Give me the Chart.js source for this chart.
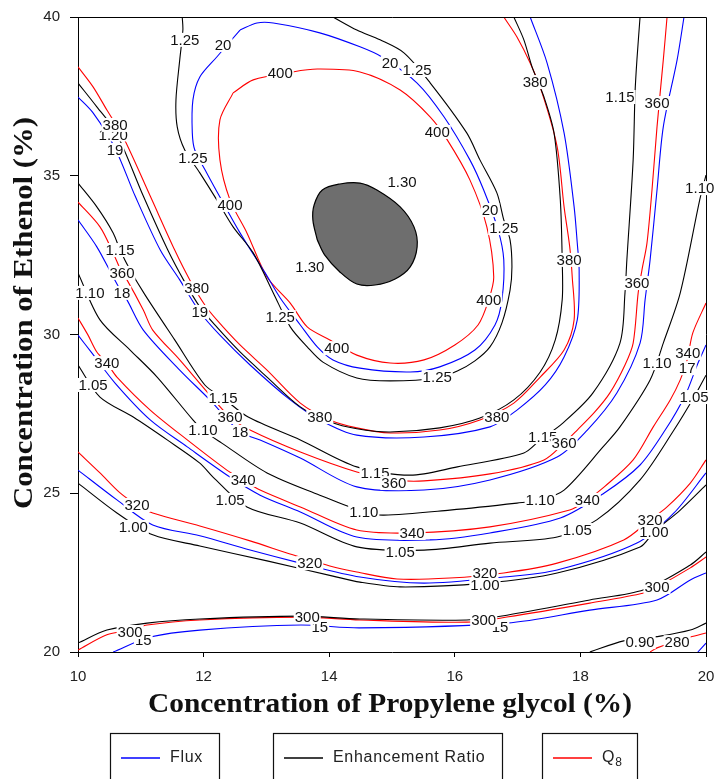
<!DOCTYPE html>
<html>
<head>
<meta charset="utf-8">
<script src="https://cdn.jsdelivr.net/npm/chart.js@4.4.1/dist/chart.umd.min.js"></script>
<style>
html,body{margin:0;padding:0;background:#fff;}
canvas{display:block;}
</style>
</head>
<body>
<canvas id="c" width="717" height="779"></canvas>
<script>
// ---------------- data (axis units) ----------------
const xTicks = [10, 12, 14, 16, 18, 20];
const yTicks = [20, 25, 30, 35, 40];
const xTitle = 'Concentration of Propylene glycol (%)';
const yTitle = 'Concentration of Ethenol (%)';
const seriesNames = ['Flux', 'Enhancement Ratio', 'Q8'];

// Flux contours (blue)
const flux20 = [[12.58,39.59],[12.85,39.81],[13.11,39.81],[13.85,39.50],[14.49,39.06],[14.84,38.74],[15.40,37.92],[15.83,36.85],[16.24,35.50],[16.46,34.55],[16.69,33.29],[16.78,32.35],[16.75,31.09],[16.64,30.30],[16.32,29.51],[15.76,28.98],[15.29,28.82],[14.49,28.94],[14.06,29.20],[13.81,29.61],[13.54,30.30],[13.22,31.15],[12.98,31.94],[12.58,33.20],[12.26,34.33],[12.05,35.09],[11.86,35.81],[11.82,36.35],[11.83,37.39],[11.94,38.11],[12.21,38.74],[12.58,39.59]];
const flux19 = [[10.00,37.48],[10.24,36.98],[10.59,35.87],[10.91,34.36],[11.31,32.66],[11.62,31.72],[11.94,30.71],[12.26,29.98],[12.74,29.04],[13.38,27.94],[13.85,27.31],[14.44,26.83],[15.51,26.77],[16.56,27.09],[16.99,27.62],[17.44,28.41],[17.74,29.29],[17.95,30.46],[17.98,32.03],[17.95,32.88],[17.90,34.02],[17.74,36.35],[17.47,38.55],[17.20,40.00]];
const flux18 = [[10.00,33.61],[10.30,32.76],[10.56,31.81],[10.70,31.31],[10.78,31.09],[11.04,30.14],[11.62,28.88],[12.10,27.94],[12.58,26.93],[12.90,26.68],[13.54,26.11],[14.44,25.20],[15.51,25.10],[16.56,25.42],[17.63,26.14],[18.11,26.99],[18.58,28.16],[18.95,29.73],[19.03,31.09],[19.11,32.35],[19.22,34.55],[19.32,36.54],[19.54,38.65],[19.65,40.00]];
const flux17 = [[10.00,29.98],[10.22,29.42],[10.59,28.47],[11.15,27.31],[11.74,26.46],[12.42,25.51],[12.90,24.94],[13.54,24.41],[14.44,23.62],[15.61,23.53],[16.56,23.75],[17.68,24.22],[18.38,25.01],[18.95,25.89],[19.35,26.99],[19.67,28.09],[19.86,29.04],[20.00,29.67]];
const flux16 = [[10.00,25.73],[10.62,24.79],[11.19,24.00],[11.94,23.66],[12.74,23.21],[13.54,22.80],[14.49,22.36],[15.51,22.17],[16.78,22.36],[17.63,22.58],[18.90,23.43],[19.49,24.38],[20.00,25.64]];
const flux15 = [[10.56,20.00],[11.15,20.47],[11.94,20.69],[13.54,20.85],[14.49,20.76],[16.83,20.91],[18.15,21.32],[19.22,21.64],[19.75,22.27],[20.00,22.49]];
const flux14 = [[19.87,20.00],[20.00,20.28]];

// Enhancement ratio contours (black)
const er125 = [[11.66,40.00],[11.67,39.59],[11.62,38.65],[11.56,37.39],[11.58,36.54],[11.70,35.81],[11.94,35.09],[12.21,34.24],[12.47,33.39],[12.79,32.57],[13.11,31.31],[13.38,30.24],[13.65,29.61],[13.90,29.13],[14.44,28.63],[14.97,28.54],[15.72,28.63],[16.04,28.85],[16.32,29.17],[16.56,29.61],[16.75,30.36],[16.88,31.40],[16.91,32.13],[16.88,32.98],[16.78,33.61],[16.67,34.46],[16.40,35.50],[16.19,36.35],[15.61,37.92],[15.19,38.87],[14.81,39.28],[14.44,39.59],[14.06,40.00]];
const er120 = [[10.00,37.92],[10.30,37.17],[10.61,36.35],[11.04,34.36],[11.43,32.66],[11.70,31.65],[11.94,30.87],[12.18,30.30],[12.58,29.45],[13.01,28.66],[13.54,27.72],[14.01,27.25],[14.44,27.03],[14.97,26.93],[15.76,27.06],[16.40,27.37],[16.94,27.94],[17.36,28.82],[17.60,29.83],[17.71,31.09],[17.71,32.35],[17.68,34.24],[17.58,36.35],[17.42,37.48],[17.23,38.43],[17.10,39.28],[16.94,40.00]];
const er115 = [[10.00,34.77],[10.30,34.02],[10.56,33.20],[10.67,32.66],[10.83,32.03],[11.07,31.24],[11.54,29.83],[12.02,28.41],[12.31,28.00],[12.71,27.40],[13.54,26.68],[14.44,25.83],[15.29,25.57],[16.04,25.83],[17.10,26.27],[17.36,26.68],[17.72,27.21],[18.20,28.16],[18.63,29.73],[18.71,31.31],[18.74,32.35],[18.84,35.50],[18.87,37.61],[18.90,38.65],[18.95,40.00]];
const er110 = [[10.00,31.94],[10.35,30.46],[10.83,29.51],[11.26,28.66],[11.83,27.31],[11.99,26.99],[12.29,26.58],[13.01,25.64],[13.85,24.94],[14.55,24.41],[14.87,24.31],[15.92,24.47],[16.99,24.69],[17.36,24.79],[17.74,25.10],[18.36,26.46],[18.63,27.09],[19.11,28.57],[19.32,29.73],[19.59,31.31],[19.90,34.24],[20.00,35.02]];
const er105 = [[10.00,29.04],[10.35,28.03],[10.88,27.40],[11.42,26.68],[11.94,25.95],[12.15,25.51],[12.69,24.57],[13.54,24.06],[14.44,23.31],[15.51,23.21],[16.56,23.43],[17.63,23.62],[18.26,24.16],[18.95,25.42],[19.49,26.99],[19.81,28.03],[20.00,28.72]];
const er100 = [[10.00,25.32],[10.62,24.38],[11.19,23.69],[11.94,23.34],[13.01,22.87],[14.06,22.39],[14.49,22.20],[15.13,22.05],[16.48,22.17],[17.63,22.49],[18.95,23.31],[19.17,23.78],[19.59,24.47],[20.00,25.26]];
const er095 = [[10.00,20.28],[10.46,20.69],[11.10,20.91],[11.94,21.04],[13.54,21.13],[14.49,21.04],[16.19,21.01],[16.83,21.16],[18.15,21.64],[19.01,21.96],[19.75,22.74],[20.00,23.15]];
const er090 = [[18.15,20.00],[18.69,20.35],[19.27,20.50],[19.75,20.69],[20.00,20.91]];
// region where the enhancement ratio exceeds 1.30 (shaded)
const er130Region = [[13.81,32.98],[13.93,32.50],[14.17,31.97],[14.44,31.59],[14.73,31.56],[15.05,31.75],[15.29,32.13],[15.40,32.76],[15.35,33.39],[15.13,34.02],[14.76,34.55],[14.49,34.77],[14.17,34.74],[13.89,34.55],[13.76,34.08],[13.74,33.61],[13.81,32.98]];

// Q8 contours (red)
const q400 = [[12.47,37.61],[12.79,38.02],[13.42,38.27],[13.81,38.36],[14.49,38.27],[15.13,37.70],[15.61,36.85],[15.88,36.13],[16.24,34.87],[16.51,33.39],[16.62,31.81],[16.54,31.09],[16.37,30.30],[16.00,29.67],[15.51,29.20],[14.97,29.10],[14.44,29.35],[14.01,29.83],[13.65,30.24],[13.38,30.99],[13.01,31.81],[12.69,33.20],[12.42,34.24],[12.26,35.50],[12.26,36.76],[12.47,37.61]];
const q380 = [[10.00,38.43],[10.24,37.80],[10.46,37.07],[10.72,36.22],[11.15,34.36],[11.54,32.66],[11.78,31.72],[12.02,30.93],[12.21,30.46],[12.58,29.67],[13.01,28.88],[13.54,27.84],[14.01,27.31],[14.44,27.06],[14.97,26.90],[15.76,26.99],[16.40,27.31],[16.94,27.84],[17.36,28.66],[17.74,29.51],[17.90,30.46],[17.87,31.81],[17.83,32.76],[17.74,34.02],[17.63,35.91],[17.39,37.61],[17.20,38.55],[16.99,39.37],[16.78,40.00]];
const q360 = [[10.00,34.17],[10.35,33.39],[10.56,32.57],[10.70,31.94],[10.78,31.72],[11.04,30.77],[11.19,30.14],[11.62,29.20],[12.10,28.09],[12.42,27.40],[12.74,26.99],[13.54,26.30],[14.44,25.67],[15.03,25.42],[15.51,25.39],[16.56,25.61],[17.42,26.05],[17.74,26.58],[17.95,26.99],[18.23,27.56],[18.47,28.16],[18.71,29.04],[18.84,29.73],[18.92,31.31],[18.98,32.03],[19.06,32.88],[19.14,34.55],[19.22,36.54],[19.32,38.65],[19.38,40.00]];
const q340 = [[10.00,30.52],[10.16,29.98],[10.30,29.45],[10.46,29.10],[10.62,28.66],[11.15,27.62],[11.74,26.68],[12.37,25.73],[12.63,25.42],[12.90,25.10],[13.54,24.57],[14.44,23.84],[15.32,23.75],[16.56,23.94],[17.83,24.47],[18.11,24.79],[18.38,25.20],[18.84,26.05],[19.16,27.09],[19.43,27.94],[19.59,28.57],[19.70,29.20],[19.79,30.05],[20.00,30.99]];
const q320 = [[10.00,26.30],[10.35,25.64],[10.67,25.01],[10.94,24.63],[11.19,24.38],[11.94,23.97],[12.74,23.50],[13.42,23.06],[14.01,22.71],[14.44,22.52],[15.08,22.30],[15.92,22.33],[16.78,22.49],[17.63,22.80],[18.69,23.53],[19.11,24.16],[19.38,24.57],[19.75,25.32],[20.00,26.05]];
const q300 = [[10.00,20.06],[10.46,20.54],[10.83,20.69],[11.10,20.85],[11.94,21.01],[13.54,21.10],[14.49,21.01],[16.19,20.94],[16.83,21.10],[18.15,21.54],[19.01,21.86],[19.22,22.05],[19.75,22.65],[20.00,22.99]];
const q280 = [[19.11,20.00],[19.22,20.13],[19.75,20.47],[20.00,20.60]];

// contour labels [x, y, text]
const erLabels = [
  [11.70,39.28,'1.25'],[11.83,35.56,'1.25'],[15.40,38.33,'1.25'],[16.78,33.35,'1.25'],[15.72,28.66,'1.25'],[13.22,30.55,'1.25'],
  [15.16,34.80,'1.30'],[13.69,32.13,'1.30'],
  [10.56,36.30,'1.20'],
  [10.67,32.66,'1.15'],[12.31,28.00,'1.15'],[14.73,25.64,'1.15'],[18.63,37.48,'1.15'],[17.40,26.77,'1.15'],
  [10.19,31.31,'1.10'],[11.99,26.99,'1.10'],[14.55,24.41,'1.10'],[17.36,24.79,'1.10'],[19.22,29.10,'1.10'],[19.90,34.61,'1.10'],
  [10.24,28.41,'1.05'],[12.42,24.79,'1.05'],[15.13,23.15,'1.05'],[17.95,23.84,'1.05'],[19.81,28.03,'1.05'],
  [10.88,23.94,'1.00'],[16.48,22.11,'1.00'],[19.17,23.78,'1.00'],
  [18.95,20.31,'0.90']
];
const fluxLabels = [
  [12.31,39.12,'20'],[14.97,38.55,'20'],[16.56,33.92,'20'],
  [10.59,35.81,'19'],[11.94,30.71,'19'],
  [10.70,31.31,'18'],[12.58,26.93,'18'],
  [19.70,28.94,'17'],
  [11.04,20.38,'15'],[13.85,20.79,'15'],[16.72,20.79,'15']
];
const qLabels = [
  [13.22,38.24,'400'],[12.42,34.08,'400'],[15.72,36.38,'400'],[16.54,31.09,'400'],[14.12,29.57,'400'],
  [10.59,36.60,'380'],[11.89,31.46,'380'],[13.85,27.40,'380'],[16.67,27.40,'380'],[17.28,37.95,'380'],[17.82,32.35,'380'],
  [10.70,31.94,'360'],[12.42,27.40,'360'],[15.03,25.32,'360'],[17.74,26.58,'360'],[19.22,37.29,'360'],[18.90,31.62,'360'],
  [10.46,29.10,'340'],[12.63,25.42,'340'],[15.32,23.75,'340'],[18.11,24.79,'340'],[19.71,29.42,'340'],
  [10.94,24.63,'320'],[13.69,22.80,'320'],[16.48,22.49,'320'],[19.11,24.16,'320'],
  [10.83,20.63,'300'],[13.65,21.10,'300'],[16.46,21.01,'300'],[19.22,22.05,'300'],
  [19.54,20.31,'280']
];

const fluxLevels = [flux20, flux19, flux18, flux17, flux16, flux15, flux14];
const erLevels = [er125, er120, er115, er110, er105, er100, er095, er090];
const qLevels = [q400, q380, q360, q340, q320, q300, q280];

// ---------------- styling / chart ----------------
const BLUE = '#0000ff', BLACK = '#000000', RED = '#ff0000';
const SANS = '"Liberation Sans", Arial, sans-serif';
const SERIF = '"Liberation Serif", "Times New Roman", serif';
Chart.defaults.font.family = SANS;

function lineDataset(pts, color, name) {
  return {
    label: name,
    data: pts.map(p => ({x: p[0], y: p[1]})),
    showLine: true,
    borderColor: color,
    backgroundColor: color,
    borderWidth: 1.1,
    pointRadius: 0,
    pointHoverRadius: 0,
    tension: 0.3,
    fill: false
  };
}

const datasets = [];
erLevels.forEach(l => datasets.push(lineDataset(l, BLACK, seriesNames[1])));
datasets.push({
  label: seriesNames[1] + ' > 1.30',
  data: er130Region.map(p => ({x: p[0], y: p[1]})),
  showLine: true, borderColor: '#000', borderWidth: 1.2,
  backgroundColor: '#6e6e6e', fill: 'shape', pointRadius: 0, tension: 0.35
});
fluxLevels.forEach(l => datasets.push(lineDataset(l, BLUE, seriesNames[0])));
qLevels.forEach(l => datasets.push(lineDataset(l, RED, seriesNames[2])));

const framePlugin = {
  id: 'frameAndLabels',
  afterDatasetsDraw(chart) {
    const {ctx, chartArea: a, scales: {x, y}} = chart;
    ctx.save();
    ctx.strokeStyle = '#000';
    ctx.lineWidth = 1;
    ctx.beginPath();
    ctx.moveTo(a.left, a.top + 0.5);
    ctx.lineTo(a.right + 0.5, a.top + 0.5);
    ctx.lineTo(a.right + 0.5, a.bottom);
    ctx.stroke();

    ctx.font = '15px ' + SANS;
    ctx.textAlign = 'center';
    ctx.textBaseline = 'middle';
    for (const [lx, ly, t] of [...erLabels, ...fluxLabels, ...qLabels]) {
      const px = x.getPixelForValue(lx), py = y.getPixelForValue(ly);
      const w = ctx.measureText(t).width;
      ctx.fillStyle = '#fff';
      ctx.fillRect(px - w / 2 - 1, py - 7, w + 2, 14);
      ctx.fillStyle = '#111';
      ctx.fillText(t, px, py + 1);
    }
    ctx.restore();
  },
  afterDraw(chart) {
    const {ctx, chartArea: a} = chart;
    ctx.save();
    ctx.fillStyle = '#111';
    ctx.textAlign = 'center';
    ctx.textBaseline = 'middle';
    ctx.font = 'bold 27px ' + SERIF;
    // x title
    let w = ctx.measureText(xTitle).width;
    ctx.save();
    ctx.translate((a.left + a.right) / 2 - 2, 705);
    ctx.scale(484 / w, 1);
    ctx.fillText(xTitle, 0, 0);
    ctx.restore();
    // y title
    w = ctx.measureText(yTitle).width;
    ctx.save();
    ctx.translate(25, 313);
    ctx.rotate(-Math.PI / 2);
    ctx.scale(392 / w, 1);
    ctx.fillText(yTitle, 0, 0);
    ctx.restore();

    // legend boxes
    const boxes = [
      {x: 110, w: 109, color: BLUE, text: seriesNames[0], sub: ''},
      {x: 273, w: 229, color: BLACK, text: seriesNames[1], sub: ''},
      {x: 542, w: 95, color: RED, text: seriesNames[2].slice(0, 1), sub: seriesNames[2].slice(1)}
    ];
    const top = 733, ly = 758;
    ctx.textAlign = 'left';
    for (const b of boxes) {
      ctx.strokeStyle = '#111';
      ctx.lineWidth = 1.2;
      ctx.strokeRect(b.x + 0.5, top + 0.5, b.w, 80);
      ctx.strokeStyle = b.color;
      ctx.lineWidth = 1.5;
      ctx.beginPath();
      ctx.moveTo(b.x + 11, ly);
      ctx.lineTo(b.x + 50, ly);
      ctx.stroke();
      ctx.fillStyle = '#222';
      ctx.font = '16px ' + SANS;
      ctx.letterSpacing = '0.7px';
      ctx.fillText(b.text, b.x + 60, ly);
      if (b.sub) {
        const tw = ctx.measureText(b.text).width;
        ctx.font = '12px ' + SANS;
        ctx.fillText(b.sub, b.x + 60 + tw, ly + 5);
      }
      ctx.letterSpacing = '0px';
    }
    ctx.restore();
  }
};

new Chart(document.getElementById('c'), {
  type: 'scatter',
  data: {datasets},
  options: {
    responsive: false,
    animation: false,
    devicePixelRatio: 1,
    events: [],
    layout: {padding: {top: 17, right: 11, bottom: 0, left: 0}},
    plugins: {legend: {display: false}, tooltip: {enabled: false}},
    scales: {
      x: {
        type: 'linear', min: 10, max: 20,
        afterBuildTicks: s => { s.ticks = xTicks.map(v => ({value: v})); },
        afterFit: s => { s.height = 127; s.paddingLeft = 0; s.paddingRight = 0; },
        ticks: {font: {size: 15}, color: '#222', padding: 11},
        grid: {drawOnChartArea: false, tickLength: 5, tickColor: '#000'},
        border: {color: '#000', width: 1}
      },
      y: {
        type: 'linear', min: 20, max: 40,
        afterBuildTicks: s => { s.ticks = yTicks.map(v => ({value: v})); },
        afterFit: s => { s.width = 78; s.paddingTop = 0; s.paddingBottom = 0; },
        ticks: {font: {size: 15}, color: '#222', padding: 10},
        grid: {drawOnChartArea: false, tickLength: 8, tickColor: '#000'},
        border: {color: '#000', width: 1}
      }
    }
  },
  plugins: [framePlugin]
});
</script>
</body>
</html>
